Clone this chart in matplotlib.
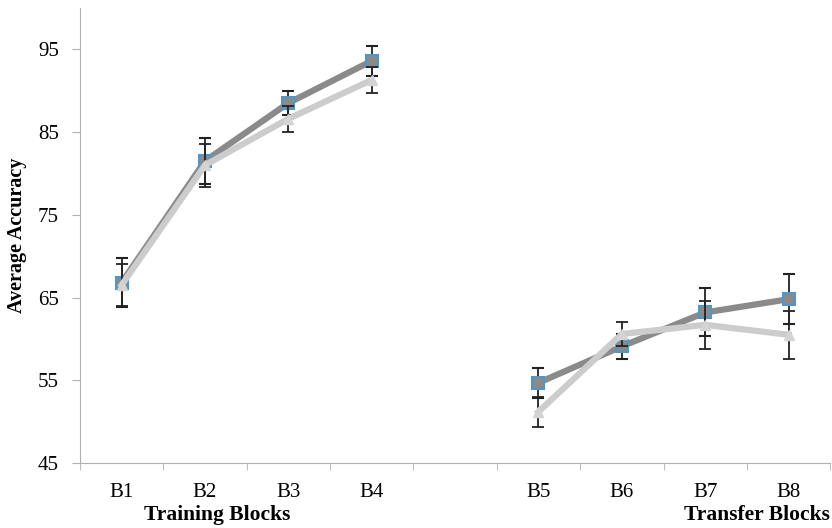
import matplotlib.pyplot as plt
import matplotlib.transforms as mtransforms

# data
blocks = ['B1', 'B2', 'B3', 'B4', 'B5', 'B6', 'B7', 'B8']
pos = [1, 2, 3, 4, 6, 7, 8, 9]   # empty slot between training and transfer
dark = [66.8, 81.5, 88.5, 93.6, 54.7, 59.1, 63.2, 64.8]
dark_err = [3.0, 2.8, 1.4, 1.8, 1.8, 1.5, 2.9, 3.0]
light = [66.5, 81.0, 86.6, 91.3, 51.2, 60.6, 61.7, 60.5]
light_err = [2.5, 2.6, 1.6, 1.6, 1.8, 1.5, 2.9, 2.9]

plt.rcParams['font.family'] = ['Liberation Serif', 'DejaVu Serif']

fig = plt.figure(figsize=(8.32, 5.28), dpi=100)
ax = fig.add_axes([0.096, 0.123, 0.902, 0.862])

# training (first 4) and transfer (last 4) are drawn as separate lines
for sl in [slice(0, 4), slice(4, 8)]:
    ax.errorbar(pos[sl], dark[sl], yerr=dark_err[sl], color='#8a8a8a', lw=4.5,
                marker='s', ms=8, mfc='#8a8a8a', mec='#4f97c8', mew=1.5,
                ecolor='#222222', elinewidth=1.3, capsize=4, capthick=1.3, zorder=2)
    ax.errorbar(pos[sl], light[sl], yerr=light_err[sl], color='#cccccc', lw=4.5,
                marker='^', ms=7, mfc='#d4d4d4', mec='#d4d4d4',
                ecolor='#222222', elinewidth=1.3, capsize=4, capthick=1.3, zorder=3)

ax.set_xlim(0.5, 9.5)
ax.set_ylim(45, 100)
ax.set_yticks(range(45, 100, 10))
ax.set_xticks(pos)
ax.set_xticklabels(blocks)
ax.set_xticks([i + 0.5 for i in range(10)], minor=True)
ax.tick_params(axis='x', which='major', length=0, pad=14, labelsize=15)
ax.tick_params(axis='x', which='minor', length=5, color='#b0b0b0', direction='out')
ax.tick_params(axis='y', length=6, color='#b0b0b0', pad=9, labelsize=15)

for s in ['top', 'right']:
    ax.spines[s].set_visible(False)
for s in ['left', 'bottom']:
    ax.spines[s].set_color('#b0b0b0')

ax.set_ylabel('Average Accuracy', fontsize=14.5, fontweight='bold', labelpad=8)

trans = mtransforms.blended_transform_factory(ax.transData, ax.transAxes)
ax.text(2.15, -0.115, 'Training Blocks', transform=trans, ha='center', va='center',
        fontsize=15.5, fontweight='bold')
ax.text(9.5, -0.115, 'Transfer Blocks', transform=trans, ha='right', va='center',
        fontsize=15.5, fontweight='bold')

fig.savefig('out.png', dpi=100)
